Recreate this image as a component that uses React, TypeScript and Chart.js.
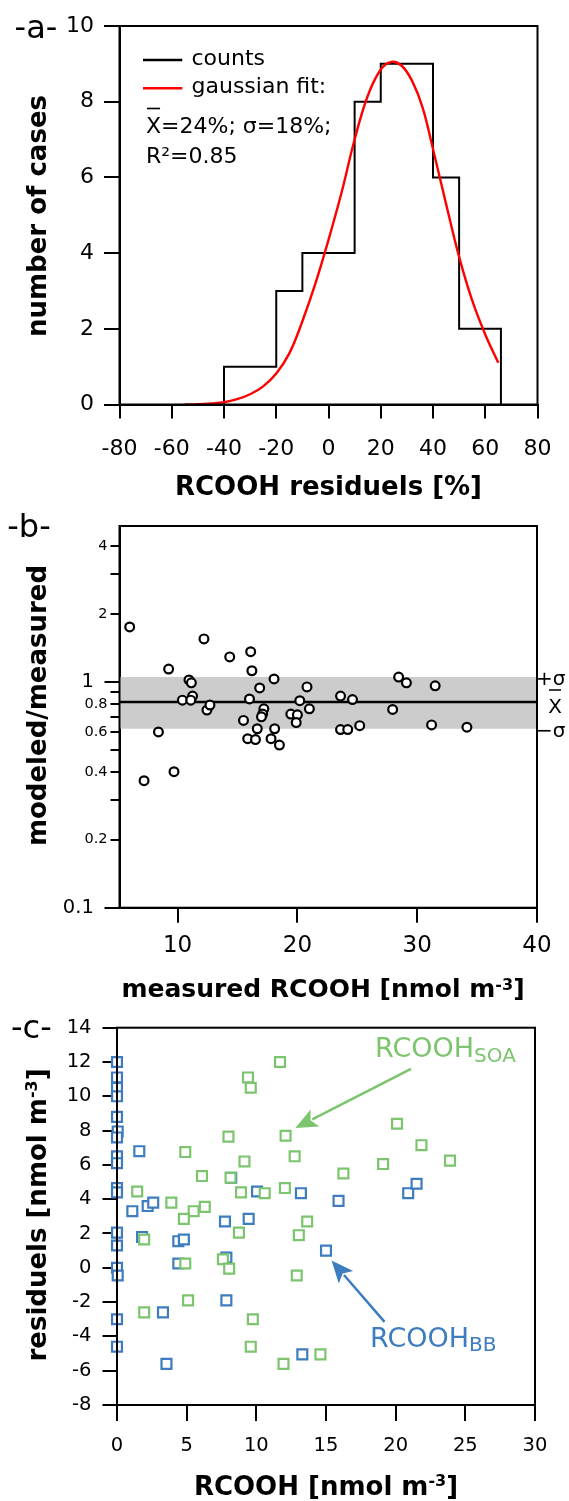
import React, { useEffect, useRef } from 'react';
import { Chart, registerables } from 'chart.js';

Chart.register(...registerables);

const FONT = '"DejaVu Sans", "Liberation Sans", sans-serif';
const W = 569;

// ---------------- panel a : histogram + gaussian fit ----------------
const HIST_EDGES = [-40, -20, -10, 10, 20, 40, 50, 66];
const HIST_COUNTS = [1, 3, 4, 8, 9, 6, 2];
const FIT_X = [-55, -50, -45, -40, -35, -30, -25, -20, -15, -10, -5, 0, 5, 10, 15, 20, 24, 28, 32, 36, 40, 45, 50, 55, 60, 65];
const FIT_Y = [0, 0.01, 0.03, 0.06, 0.14, 0.27, 0.48, 0.82, 1.35, 2.2, 3.2, 4.35, 5.6, 7.0, 8.15, 8.85, 9.05, 8.95, 8.55, 7.85, 6.75, 5.3, 3.9, 2.75, 1.85, 1.1];
const A_X_TICKS = [-80, -60, -40, -20, 0, 20, 40, 60, 80];
const A_Y_TICKS = [0, 2, 4, 6, 8, 10];

// ---------------- panel b : modeled/measured ----------------
const MEAS_X = [6.0, 9.25, 8.4, 7.2, 9.7, 10.4, 10.95, 11.15, 11.25, 11.1, 12.45, 12.7, 12.2, 14.35, 15.5, 16.1, 16.2, 16.0, 16.85, 18.05, 17.2, 17.1, 17.0, 16.65, 15.85, 16.5, 17.8, 18.1, 18.5, 19.45, 20.0, 19.9, 20.2, 21.0, 20.8, 23.6, 24.6, 23.6, 24.2, 25.2, 27.95, 28.45, 29.1, 31.5, 31.2, 34.15];
const RATIO_Y = [1.75, 1.14, 0.6, 0.365, 0.4, 0.83, 1.02, 0.99, 0.865, 0.83, 0.75, 0.79, 1.55, 1.29, 0.675, 1.36, 1.12, 0.84, 0.94, 1.03, 0.76, 0.72, 0.7, 0.62, 0.56, 0.555, 0.56, 0.62, 0.525, 0.72, 0.715, 0.66, 0.825, 0.76, 0.95, 0.865, 0.835, 0.615, 0.615, 0.64, 0.755, 1.05, 0.99, 0.96, 0.645, 0.63];
const B_MEAN = 0.815;
const B_PLUS_SIGMA = 1.05;
const B_MINUS_SIGMA = 0.62;
const B_X_MIN = 5.15;
const B_X_MAX = 40;
const B_Y_MIN = 0.1;
const B_Y_MAX = 4.9;
const B_X_TICKS = [10, 20, 30, 40];
const B_Y_TICKS = [0.1, 0.2, 0.3, 0.4, 0.5, 0.6, 0.7, 0.8, 0.9, 1, 2, 3, 4];
const B_Y_LABELS = ['0.1', '0.2', '', '0.4', '', '0.6', '', '0.8', '', '1', '2', '', '4'];
const B_Y_MAJOR = [0.1, 1];

// ---------------- panel c : residuals ----------------
const BB_X = [0, 0, 0, 0, 0, 0.05, 0, 0, 0, 0, 0, 0, 0, 0, 0.05, 0, 0, 1.6, 1.1, 2.2, 2.6, 1.8, 4.4, 4.8, 7.75, 9.45, 8.2, 10.05, 13.2, 15.9, 20.9, 21.5, 15.0, 3.3, 3.55, 4.4, 7.85, 7.85, 13.3];
const BB_Y = [12, 11.1, 10.5, 10.0, 8.8, 7.95, 7.6, 6.5, 6.1, 4.65, 4.4, 2.05, 1.3, 0, -0.45, -3, -4.6, 6.8, 3.3, 3.6, 3.8, 1.8, 1.55, 1.65, 2.7, 2.85, 5.25, 4.45, 4.35, 3.9, 4.35, 4.9, 1.0, -2.6, -5.6, 0.25, 0.6, -1.9, -5.05];
const SOA_X = [11.7, 9.4, 9.6, 20.1, 12.1, 8.0, 21.85, 4.9, 12.75, 9.15, 23.9, 19.1, 6.1, 16.25, 8.15, 1.45, 8.9, 10.6, 12.05, 3.9, 5.5, 6.3, 4.8, 13.65, 8.75, 13.05, 1.95, 7.6, 4.9, 8.05, 12.9, 5.1, 1.95, 9.75, 9.6, 11.95, 14.6];
const SOA_Y = [12.0, 11.1, 10.5, 8.4, 7.7, 7.65, 7.15, 6.75, 6.5, 6.2, 6.25, 6.05, 5.35, 5.5, 5.25, 4.45, 4.4, 4.35, 4.65, 3.8, 3.3, 3.55, 2.85, 2.7, 2.05, 1.9, 1.65, 0.5, 0.25, -0.05, -0.45, -1.9, -2.6, -3.0, -4.6, -5.6, -5.05];
const C_X_TICKS = [0, 5, 10, 15, 20, 25, 30];
const C_Y_TICKS = [-8, -6, -4, -2, 0, 2, 4, 6, 8, 10, 12, 14];
// arrow annotations, data units: [tailX, tailY, tipX, tipY]
const SOA_ARROW = [21.1, 11.6, 12.8, 8.15];
const BB_ARROW = [19.2, -3.15, 15.4, 0.42];

const GREEN = '#7cc46e';
const BLUE = '#3d7cbf';

// ---------------- helpers ----------------
type Part = { t: string; s?: 'sup' | 'sub' };

function rich(ctx: CanvasRenderingContext2D, parts: Part[], x: number, y: number, size: number,
  o: { bold?: boolean; align?: 'left' | 'center'; rotate?: boolean; color?: string; small?: number; shift?: number } = {}) {
  const w = o.bold ? 'bold ' : '';
  const small = o.small ?? size * 0.62;
  const fontOf = (p: Part) => `${w}${p.s ? small : size}px ${FONT}`;
  ctx.save();
  let total = 0;
  const widths = parts.map((p) => { ctx.font = fontOf(p); const m = ctx.measureText(p.t).width; total += m; return m; });
  ctx.translate(x, y);
  if (o.rotate) ctx.rotate(-Math.PI / 2);
  ctx.fillStyle = o.color ?? '#000';
  ctx.textBaseline = 'alphabetic';
  ctx.textAlign = 'left';
  let cx = o.align === 'left' ? 0 : -total / 2;
  parts.forEach((p, i) => {
    ctx.font = fontOf(p);
    const dy = p.s === 'sup' ? -(o.shift ?? 8) : p.s === 'sub' ? (o.shift ?? 5) : 0;
    ctx.fillText(p.t, cx, dy);
    cx += widths[i];
  });
  ctx.restore();
  return total;
}

function text(ctx: CanvasRenderingContext2D, s: string, x: number, y: number, font: string, color = '#000') {
  ctx.save();
  ctx.font = font;
  ctx.fillStyle = color;
  ctx.textAlign = 'left';
  ctx.textBaseline = 'alphabetic';
  ctx.fillText(s, x, y);
  const w = ctx.measureText(s).width;
  ctx.restore();
  return w;
}

function seg(ctx: CanvasRenderingContext2D, x1: number, y1: number, x2: number, y2: number, color: string, lw: number) {
  ctx.save();
  ctx.strokeStyle = color;
  ctx.lineWidth = lw;
  ctx.beginPath();
  ctx.moveTo(x1, y1);
  ctx.lineTo(x2, y2);
  ctx.stroke();
  ctx.restore();
}

function frame(ctx: CanvasRenderingContext2D, ca: any) {
  ctx.save();
  ctx.strokeStyle = '#000';
  ctx.lineWidth = 2;
  ctx.strokeRect(ca.left, ca.top, ca.right - ca.left, ca.bottom - ca.top);
  ctx.restore();
}

function arrow(ctx: CanvasRenderingContext2D, x1: number, y1: number, x2: number, y2: number, color: string) {
  const headLen = 22, headW = 19;
  const ang = Math.atan2(y2 - y1, x2 - x1);
  const bx = x2 - headLen * Math.cos(ang);
  const by = y2 - headLen * Math.sin(ang);
  ctx.save();
  ctx.strokeStyle = color;
  ctx.fillStyle = color;
  ctx.lineWidth = 2.5;
  ctx.beginPath();
  ctx.moveTo(x1, y1);
  ctx.lineTo(bx + 3 * Math.cos(ang), by + 3 * Math.sin(ang));
  ctx.stroke();
  ctx.beginPath();
  ctx.moveTo(x2, y2);
  ctx.lineTo(bx + (headW / 2) * Math.sin(ang), by - (headW / 2) * Math.cos(ang));
  ctx.lineTo(bx + 5 * Math.cos(ang), by + 5 * Math.sin(ang));
  ctx.lineTo(bx - (headW / 2) * Math.sin(ang), by + (headW / 2) * Math.cos(ang));
  ctx.closePath();
  ctx.fill();
  ctx.restore();
}

const setTicks = (vals: number[]) => (scale: any) => { scale.ticks = vals.map((v) => ({ value: v })); };

const axis = (tl: number, size: any, pad: number, labels?: string[]) => ({
  grid: { drawOnChartArea: false, drawTicks: true, tickLength: tl, color: '#000', tickColor: '#000', lineWidth: 2, tickWidth: 2 },
  border: { display: true, color: '#000', width: 2 },
  ticks: {
    color: '#000', font: typeof size === 'number' ? { family: FONT, size } : size, padding: pad, autoSkip: false, maxRotation: 0, minRotation: 0,
    callback: (v: any, i: number) => (labels ? labels[i] : String(v)),
  },
});

const baseOptions = (padTop: number, padRight: number) => ({
  responsive: false,
  animation: false as const,
  devicePixelRatio: 1,
  events: [] as any[],
  layout: { padding: { top: padTop, right: padRight, left: 0, bottom: 0 } },
  plugins: { legend: { display: false }, tooltip: { enabled: false } },
});

// ---------------- panel builders ----------------
function makeA(canvas: HTMLCanvasElement, H: number) {
  const hist: { x: number; y: number }[] = [{ x: HIST_EDGES[0], y: 0 }];
  HIST_COUNTS.forEach((c, i) => { hist.push({ x: HIST_EDGES[i], y: c }, { x: HIST_EDGES[i + 1], y: c }); });
  hist.push({ x: HIST_EDGES[HIST_EDGES.length - 1], y: 0 });
  const fit = FIT_X.map((x, i) => ({ x, y: FIT_Y[i] }));
  const f22 = `22px ${FONT}`;
  const decor = {
    id: 'decorA',
    afterDraw(chart: any) {
      const ctx = chart.ctx as CanvasRenderingContext2D;
      frame(ctx, chart.chartArea);
      text(ctx, '-a-', 14.6, 38.3, `32px ${FONT}`);
      seg(ctx, 143, 60, 182.3, 60, '#000', 2.5);
      seg(ctx, 143, 88.3, 182.3, 88.3, '#ff0000', 2.5);
      text(ctx, 'counts', 191.5, 65, f22);
      text(ctx, 'gaussian fit:', 191.5, 93.3, f22);
      const xw = text(ctx, 'X', 146, 132.7, f22);
      seg(ctx, 147, 108.5, 146 + xw - 1, 108.5, '#000', 1.6);
      text(ctx, '=24%; σ=18%;', 146 + xw, 132.7, f22);
      text(ctx, 'R²=0.85', 146, 163.3, f22);
      rich(ctx, [{ t: 'RCOOH residuels [%]' }], 328.5, 495, 26, { bold: true });
      rich(ctx, [{ t: 'number of cases' }], 45.6, 216, 26, { bold: true, rotate: true });
    },
  };
  return new Chart(canvas, {
    type: 'line',
    data: {
      datasets: [
        { data: fit, borderColor: '#ff0000', borderWidth: 2.4, pointRadius: 0, tension: 0.4, fill: false },
        { data: hist, borderColor: '#000', borderWidth: 2, pointRadius: 0, tension: 0, fill: false },
      ],
    } as any,
    options: {
      ...baseOptions(26, W - 537.5),
      scales: {
        x: { type: 'linear', min: -80, max: 80, ...axis(14, 22, 17.5), afterBuildTicks: setTicks(A_X_TICKS), afterFit: (s: any) => { s.height = H - 404.5; } },
        y: { type: 'linear', min: 0, max: 10, ...axis(15.5, 22, 10), afterBuildTicks: setTicks(A_Y_TICKS), afterFit: (s: any) => { s.width = 119.5; } },
      },
    } as any,
    plugins: [decor],
  });
}

function makeB(canvas: HTMLCanvasElement, H: number) {
  const pts = MEAS_X.map((x, i) => ({ x, y: RATIO_Y[i] }));
  const hline = (v: number) => [{ x: B_X_MIN, y: v }, { x: B_X_MAX, y: v }];
  const f20 = `20px ${FONT}`;
  const isMajor = (v: number) => B_Y_MAJOR.includes(v);
  // major labels carry trailing spaces so that they sit left of their longer tick marks
  const yLabels = B_Y_LABELS.map((l, i) => (isMajor(B_Y_TICKS[i]) ? l + '\u2002\u2009' : l));
  const decor = {
    id: 'decorB',
    afterDraw(chart: any) {
      const ctx = chart.ctx as CanvasRenderingContext2D;
      frame(ctx, chart.chartArea);
      text(ctx, '-b-', 7.3, 31.7, `32px ${FONT}`);
      rich(ctx, [{ t: 'measured RCOOH [nmol m' }, { t: '-3', s: 'sup' }, { t: ']' }], 323, 491.7, 25, { bold: true, small: 16, shift: 7 });
      rich(ctx, [{ t: 'modeled/measured' }], 45.5, 200.5, 26, { bold: true, rotate: true });
      text(ctx, '+σ', 536, 180, f20);
      const xw = text(ctx, 'X', 548.3, 208.3, f20);
      seg(ctx, 549, 185, 548.3 + xw - 1, 185, '#000', 1.5);
      text(ctx, '−σ', 536, 232, f20);
    },
  };
  return new Chart(canvas, {
    type: 'line',
    data: {
      datasets: [
        { data: pts, showLine: false, pointStyle: 'circle', pointRadius: 4.4, pointBorderWidth: 2.2, pointBorderColor: '#000', pointBackgroundColor: '#fff', clip: false },
        { data: hline(B_MEAN), borderColor: '#000', borderWidth: 2.6, pointRadius: 0, fill: false },
        { data: hline(B_PLUS_SIGMA), borderColor: 'rgba(0,0,0,0)', borderWidth: 0, pointRadius: 0, fill: false },
        { data: hline(B_MINUS_SIGMA), borderColor: 'rgba(0,0,0,0)', borderWidth: 0, pointRadius: 0, fill: '-1', backgroundColor: '#cccccc' },
      ],
    } as any,
    options: {
      ...baseOptions(21, W - 537),
      scales: {
        x: { type: 'linear', min: B_X_MIN, max: B_X_MAX, ...axis(15, 23, 9.6), afterBuildTicks: setTicks(B_X_TICKS), afterFit: (s: any) => { s.height = H - 402.7; } },
        y: {
          type: 'logarithmic', position: 'left', weight: 1, min: B_Y_MIN, max: B_Y_MAX,
          ...axis(9, (c: any) => ({ family: FONT, size: c.tick && isMajor(c.tick.value) ? 19.5 : 14.5 }), 3, yLabels),
          afterBuildTicks: setTicks(B_Y_TICKS), afterFit: (s: any) => { s.width = 119.5; },
        },
        y2: {
          type: 'logarithmic', position: 'left', weight: 0, min: B_Y_MIN, max: B_Y_MAX,
          grid: { drawOnChartArea: false, drawTicks: true, tickLength: 15, color: '#000', tickColor: '#000', lineWidth: 2, tickWidth: 2 },
          border: { display: false },
          ticks: { display: false },
          afterBuildTicks: setTicks(B_Y_MAJOR), afterFit: (s: any) => { s.width = 0; },
        },
      },
    } as any,
    plugins: [decor],
  });
}

function makeC(canvas: HTMLCanvasElement, H: number) {
  const soa = SOA_X.map((x, i) => ({ x, y: SOA_Y[i] }));
  const bb = BB_X.map((x, i) => ({ x, y: BB_Y[i] }));
  const decor = {
    id: 'decorC',
    afterDraw(chart: any) {
      const ctx = chart.ctx as CanvasRenderingContext2D;
      const sx = chart.scales.x, sy = chart.scales.y;
      frame(ctx, chart.chartArea);
      arrow(ctx, sx.getPixelForValue(SOA_ARROW[0]), sy.getPixelForValue(SOA_ARROW[1]), sx.getPixelForValue(SOA_ARROW[2]), sy.getPixelForValue(SOA_ARROW[3]), GREEN);
      arrow(ctx, sx.getPixelForValue(BB_ARROW[0]), sy.getPixelForValue(BB_ARROW[1]), sx.getPixelForValue(BB_ARROW[2]), sy.getPixelForValue(BB_ARROW[3]), BLUE);
      rich(ctx, [{ t: 'RCOOH' }, { t: 'SOA', s: 'sub' }], 375, 51.7, 27, { align: 'left', color: GREEN, small: 20, shift: 5 });
      rich(ctx, [{ t: 'RCOOH' }, { t: 'BB', s: 'sub' }], 370, 342.3, 27, { align: 'left', color: BLUE, small: 20, shift: 4 });
      text(ctx, '-c-', 11, 33.3, `32px ${FONT}`);
      rich(ctx, [{ t: 'RCOOH [nmol m' }, { t: '-3', s: 'sup' }, { t: ']' }], 326, 490, 26, { bold: true, small: 16, shift: 9 });
      rich(ctx, [{ t: 'residuels [nmol m' }, { t: '-3', s: 'sup' }, { t: ']' }], 45.6, 210, 26, { bold: true, rotate: true, small: 16, shift: 9 });
    },
  };
  const sq = (color: string) => ({ showLine: false, pointStyle: 'rect', pointRadius: 7, pointBorderWidth: 2.2, pointBorderColor: color, pointBackgroundColor: '#fff', borderColor: color, clip: false });
  return new Chart(canvas, {
    type: 'line',
    data: {
      datasets: [
        { data: soa, ...sq(GREEN) },
        { data: bb, ...sq(BLUE) },
      ],
    } as any,
    options: {
      ...baseOptions(21, W - 535),
      scales: {
        x: { type: 'linear', min: 0, max: 30, ...axis(16, 19.5, 13), afterBuildTicks: setTicks(C_X_TICKS), afterFit: (s: any) => { s.height = H - 400; } },
        y: { type: 'linear', min: -8, max: 14, ...axis(14.5, 19.5, 11), afterBuildTicks: setTicks(C_Y_TICKS), afterFit: (s: any) => { s.width = 117; } },
      },
    } as any,
    plugins: [decor],
  });
}

const PANELS = [
  { top: 0, height: 505 },
  { top: 505, height: 500 },
  { top: 1005, height: 496 },
];

export default function App() {
  const a = useRef<HTMLCanvasElement>(null);
  const b = useRef<HTMLCanvasElement>(null);
  const c = useRef<HTMLCanvasElement>(null);
  useEffect(() => {
    const charts = [
      makeA(a.current!, PANELS[0].height),
      makeB(b.current!, PANELS[1].height),
      makeC(c.current!, PANELS[2].height),
    ];
    return () => charts.forEach((ch) => ch.destroy());
  }, []);
  const refs = [a, b, c];
  return (
    <div style={{ position: 'absolute', left: 0, top: 0, width: W, height: 1501, background: '#fff', overflow: 'hidden' }}>
      {PANELS.map((p, i) => (
        <canvas key={i} ref={refs[i]} width={W} height={p.height}
          style={{ position: 'absolute', left: 0, top: p.top, width: W, height: p.height, display: 'block' }} />
      ))}
    </div>
  );
}
